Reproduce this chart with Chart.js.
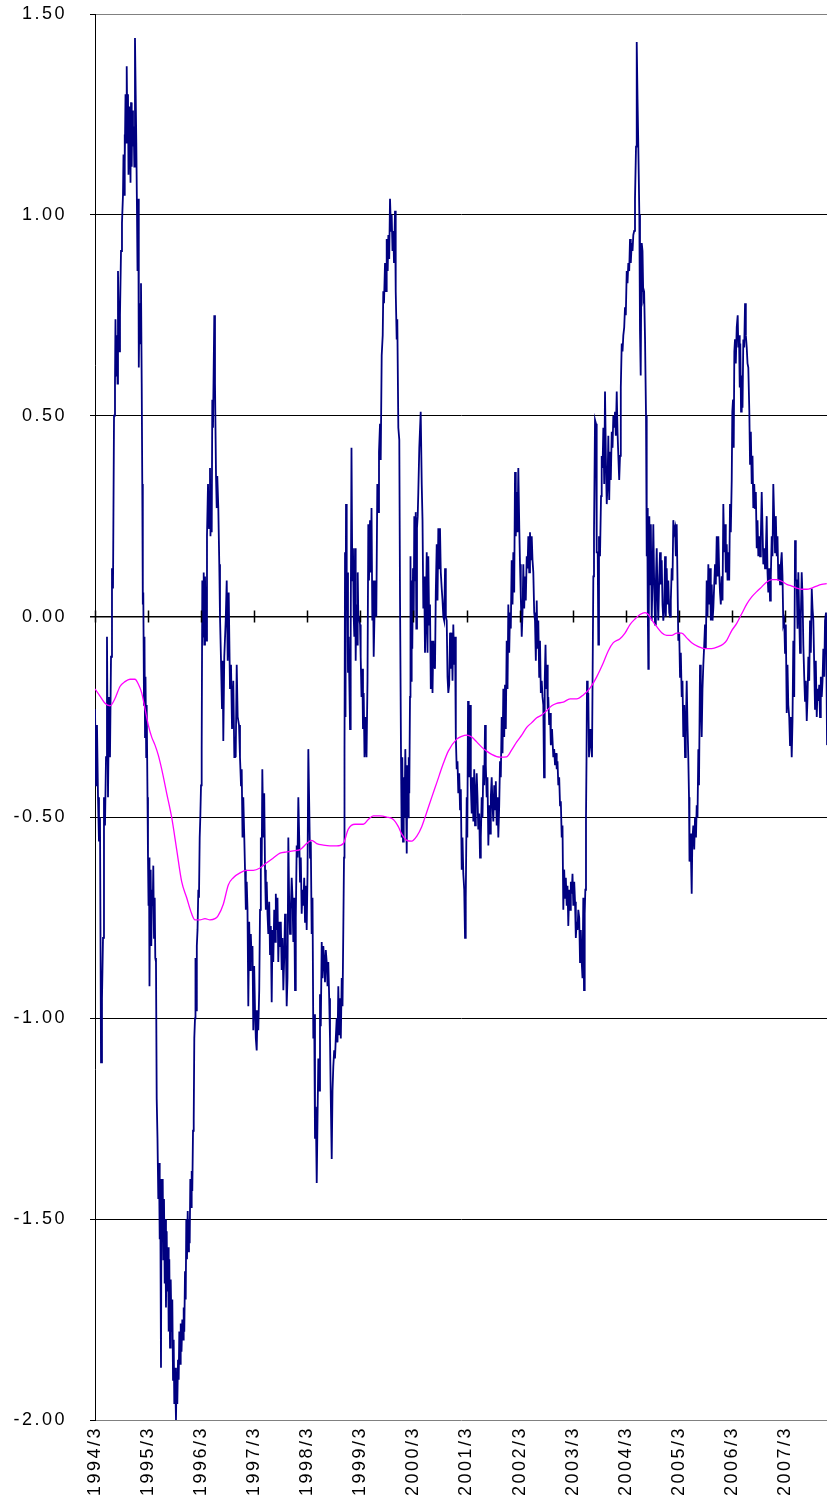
<!DOCTYPE html>
<html>
<head>
<meta charset="utf-8">
<script src="https://cdn.jsdelivr.net/npm/chart.js@4.4.1/dist/chart.umd.min.js"></script>
<style>
  body { margin: 0; background: #fff; }
  canvas { display: block; }
</style>
</head>
<body>
<canvas id="cvs_grafico" width="827" height="1510"></canvas>
<script>
// eixo x em meses contados a partir de 1994/3
const tickMeses = [0, 12, 24, 36, 48, 60, 72, 84, 96, 108, 120, 132, 144, 156];
const tickRotulos = ["1994/3", "1995/3", "1996/3", "1997/3", "1998/3", "1999/3", "2000/3",
  "2001/3", "2002/3", "2003/3", "2004/3", "2005/3", "2006/3", "2007/3"];

// serie diaria (azul)
const serieX = [
  0, 0.23, 0.45, 0.68, 0.9, 1.13, 1.36, 1.58, 1.81, 2.03, 2.26, 2.49, 2.71, 2.94, 3.17, 3.39, 3.62, 3.84, 4.07, 4.30, 4.52, 4.63, 4.75, 4.97, 5.09, 5.2, 5.43, 5.65, 5.88, 6.10,
  6.33, 6.44, 6.56, 6.67, 6.78, 6.90, 7.01, 7.17, 7.30, 7.46, 7.57, 7.69, 7.80, 7.91, 8.03, 8.14, 8.30, 8.43, 8.59, 8.75, 8.89, 9.04, 9.20, 9.34, 9.50, 9.61, 9.79, 9.90, 10.06, 10.24,
  10.40, 10.56, 10.69, 10.81, 10.92, 11.08, 11.19, 11.31, 11.42, 11.58, 11.69, 11.87, 11.98, 12.10, 12.21, 12.32, 12.44, 12.59, 12.73, 12.89, 13.05, 13.18, 13.34, 13.50, 13.63, 13.79, 13.95, 14.13, 14.31, 14.47,
  14.63, 14.76, 14.92, 15.04, 15.15, 15.31, 15.44, 15.60, 15.76, 15.89, 16.05, 16.21, 16.35, 16.51, 16.66, 16.80, 16.96, 17.12, 17.30, 17.48, 17.64, 17.79, 17.93, 18.09, 18.31, 18.47, 18.61, 18.77, 18.92, 19.06,
  19.22, 19.38, 19.56, 19.74, 19.90, 20.05, 20.19, 20.35, 20.51, 20.64, 20.80, 20.96, 21.10, 21.25, 21.41, 21.55, 21.71, 21.86, 22.00, 22.16, 22.32, 22.45, 22.61, 22.72, 22.88, 23.02, 23.18, 23.36, 23.51, 23.67,
  23.81, 23.97, 24.12, 24.26, 24.42, 24.58, 24.71, 24.87, 25.10, 25.32, 25.55, 25.78, 26.00, 26.11, 26.23, 26.39, 26.52, 26.68, 26.97, 27.13, 27.36, 27.52, 27.65, 27.88, 28.10, 28.26, 28.49, 28.71, 28.87, 29.01,
  29.23, 29.55, 29.78, 30.00, 30.23, 30.52, 30.75, 30.98, 31.27, 31.50, 31.65, 31.81, 32.04, 32.26, 32.56, 32.78, 33.01, 33.17, 33.35, 33.53, 33.73, 33.92, 34.10, 34.30, 34.48, 34.66, 34.86, 35.05, 35.23, 35.43,
  35.61, 35.79, 35.99, 36.18, 36.36, 36.56, 36.74, 36.92, 37.13, 37.31, 37.49, 37.69, 37.83, 38.05, 38.26, 38.44, 38.62, 38.82, 39.00, 39.18, 39.39, 39.57, 39.75, 39.95, 40.13, 40.31, 40.52, 40.70, 40.88, 41.08,
  41.26, 41.44, 41.65, 41.83, 42.01, 42.21, 42.39, 42.58, 42.78, 42.96, 43.14, 43.34, 43.52, 43.71, 43.91, 44.09, 44.27, 44.47, 44.65, 44.84, 45.04, 45.22, 45.40, 45.60, 45.79, 45.97, 46.17, 46.35, 46.53, 46.73,
  46.91, 47.10, 47.30, 47.48, 47.66, 47.86, 48.05, 48.23, 48.45, 48.61, 48.79, 48.99, 49.18, 49.36, 49.56, 49.74, 49.92, 50.13, 50.31, 50.49, 50.69, 50.87, 51.05, 51.26, 51.44, 51.62, 51.82, 52.00, 52.18, 52.39,
  52.57, 52.75, 52.95, 53.13, 53.31, 53.52, 53.70, 53.88, 54.08, 54.26, 54.44, 54.65, 54.83, 55.01, 55.21, 55.39, 55.58, 55.78, 55.96, 56.14, 56.30, 56.41, 56.53, 56.64, 56.75, 56.91, 57.05, 57.20, 57.36, 57.50,
  57.66, 57.81, 57.99, 58.18, 58.33, 58.49, 58.63, 58.79, 58.94, 59.08, 59.24, 59.40, 59.53, 59.69, 59.92, 60.07, 60.26, 60.44, 60.59, 60.75, 60.93, 61.16, 61.39, 61.61, 61.79, 61.95, 62.18, 62.34, 62.52, 62.70,
  62.86, 63.01, 63.19, 63.42, 63.60, 63.83, 63.99, 64.21, 64.44, 64.60, 64.82, 65.05, 65.18, 65.34, 65.57, 65.80, 65.95, 66.18, 66.32, 66.52, 66.70, 66.93, 67.08, 67.26, 67.45, 67.60, 67.83, 67.99, 68.21, 68.35,
  68.58, 68.80, 68.96, 69.19, 69.34, 69.48, 69.64, 69.80, 69.98, 70.16, 70.32, 70.48, 70.61, 70.77, 70.93, 71.06, 71.22, 71.33, 71.45, 71.60, 71.74, 71.90, 72.06, 72.19, 72.35, 72.51, 72.65, 72.80, 72.96, 73.10,
  73.32, 73.64, 73.87, 74.05, 74.23, 74.43, 74.61, 74.79, 75.00, 75.18, 75.36, 75.56, 75.74, 75.92, 76.13, 76.31, 76.49, 76.69, 76.87, 77.05, 77.26, 77.44, 77.62, 77.82, 78.00, 78.18, 78.39, 78.57, 78.75, 78.95,
  79.14, 79.32, 79.52, 79.70, 79.88, 80.08, 80.27, 80.45, 80.65, 80.83, 81.01, 81.21, 81.40, 81.58, 81.78, 81.96, 82.14, 82.35, 82.53, 82.71, 82.91, 83.09, 83.27, 83.48, 83.66, 83.77, 83.88, 84.04, 84.18, 84.34,
  84.49, 84.63, 84.79, 84.97, 85.17, 85.35, 85.54, 85.74, 85.92, 86.10, 86.30, 86.48, 86.66, 86.87, 87.05, 87.23, 87.43, 87.61, 87.80, 88.00, 88.18, 88.36, 88.56, 88.74, 88.93, 89.13, 89.31, 89.49, 89.69, 89.87,
  90.06, 90.26, 90.44, 90.62, 90.82, 91.01, 91.19, 91.39, 91.57, 91.75, 91.95, 92.14, 92.32, 92.52, 92.70, 92.88, 93.08, 93.27, 93.45, 93.65, 93.83, 94.01, 94.21, 94.40, 94.58, 94.78, 94.96, 95.14, 95.35, 95.53,
  95.71, 95.93, 96.09, 96.27, 96.48, 96.66, 96.84, 97.04, 97.22, 97.40, 97.61, 97.79, 97.97, 98.17, 98.35, 98.53, 98.74, 98.92, 99.10, 99.30, 99.48, 99.67, 99.87, 100.05, 100.23, 100.43, 100.61, 100.80, 101.00, 101.18,
  101.36, 101.52, 101.68, 101.86, 102.02, 102.20, 102.36, 102.49, 102.69, 102.88, 103.06, 103.33, 103.62, 103.82, 104.01, 104.23, 104.39, 104.57, 104.75, 104.95, 105.14, 105.32, 105.52, 105.70, 105.88, 106.08, 106.27, 106.45, 106.65, 106.83,
  107.01, 107.22, 107.40, 107.58, 107.78, 107.96, 108.14, 108.35, 108.53, 108.71, 108.91, 109.09, 109.27, 109.48, 109.66, 109.84, 110.04, 110.22, 110.40, 110.56, 110.72, 110.86, 111.01, 111.13, 111.24, 111.40, 111.53, 111.69, 111.92, 112.14,
  112.37, 112.67, 112.82, 113.05, 113.28, 113.43, 113.66, 113.80, 113.95, 114.18, 114.41, 114.56, 114.75, 114.93, 115.13, 115.31, 115.54, 115.70, 115.88, 116.06, 116.26, 116.44, 116.62, 116.83, 117.01, 117.19, 117.39, 117.57, 117.75, 117.96,
  118.14, 118.32, 118.52, 118.70, 118.88, 119.09, 119.27, 119.45, 119.65, 119.83, 120.01, 120.22, 120.40, 120.58, 120.78, 120.96, 121.14, 121.35, 121.53, 121.71, 121.91, 122.09, 122.32, 122.48, 122.66, 122.84, 123.07, 123.22, 123.38, 123.50,
  123.61, 123.79, 123.97, 124.17, 124.36, 124.58, 124.74, 124.85, 124.97, 125.10, 125.21, 125.33, 125.49, 125.67, 125.87, 126.05, 126.23, 126.44, 126.62, 126.80, 127.00, 127.18, 127.36, 127.57, 127.75, 127.93, 128.13, 128.31, 128.49, 128.70,
  128.88, 129.06, 129.26, 129.44, 129.62, 129.83, 130.01, 130.19, 130.39, 130.57, 130.75, 130.96, 131.14, 131.32, 131.52, 131.70, 131.88, 132.09, 132.27, 132.45, 132.65, 132.83, 133.01, 133.22, 133.40, 133.58, 133.78, 133.96, 134.14, 134.30,
  134.41, 134.59, 134.75, 134.91, 135.05, 135.27, 135.48, 135.66, 135.88, 136.04, 136.22, 136.41, 136.56, 136.79, 136.97, 137.17, 137.35, 137.54, 137.74, 137.92, 138.10, 138.30, 138.49, 138.67, 138.87, 139.05, 139.23, 139.44, 139.62, 139.80,
  140.00, 140.18, 140.36, 140.57, 140.75, 140.93, 141.13, 141.31, 141.49, 141.70, 141.88, 142.06, 142.26, 142.44, 142.62, 142.83, 143.01, 143.19, 143.39, 143.57, 143.75, 143.96, 144.09, 144.25, 144.41, 144.55, 144.70, 144.88, 145.09, 145.31,
  145.45, 145.61, 145.77, 145.90, 146.06, 146.22, 146.40, 146.58, 146.78, 146.97, 147.15, 147.35, 147.53, 147.71, 147.94, 148.10, 148.28, 148.48, 148.66, 148.84, 149.05, 149.23, 149.41, 149.61, 149.79, 149.97, 150.18, 150.36, 150.54, 150.74,
  150.92, 151.10, 151.31, 151.49, 151.67, 151.87, 152.05, 152.23, 152.44, 152.62, 152.80, 153.00, 153.18, 153.36, 153.57, 153.75, 153.93, 154.13, 154.31, 154.49, 154.70, 154.88, 155.06, 155.26, 155.44, 155.62, 155.83, 156.01, 156.19, 156.39,
  156.57, 156.75, 156.96, 157.14, 157.32, 157.52, 157.70, 157.88, 158.09, 158.27, 158.45, 158.65, 158.83, 159.02, 159.22, 159.40, 159.58, 159.78, 159.97, 160.15, 160.35, 160.53, 160.71, 160.92, 161.10, 161.28, 161.48, 161.66, 161.84, 162.05,
  162.23, 162.41, 162.61, 162.79, 162.97, 163.18, 163.36, 163.54, 163.74, 163.92, 164.10, 164.31, 164.49, 164.67, 164.87, 165.05, 165.28, 165.51
];
const serieValores = [
  -0.23, -0.42, -0.27, -0.45, -0.56, -0.50, -1.11, -0.95, -0.80, -0.45, -0.52, -0.35, -0.05, -0.45, -0.20, -0.35, -0.10, 0.12, 0.07, 0.50, 0.58, 0.74, 0.60, 0.70, 0.58, 0.86, 0.66, 0.75, 0.91, 0.98,
  1.05, 1.15, 1.05, 1.20, 1.13, 1.30, 1.18, 1.37, 1.22, 1.30, 1.10, 1.27, 1.15, 1.25, 1.08, 1.28, 1.12, 1.26, 1.17, 1.22, 1.12, 1.44, 1.30, 1.18, 1.00, 0.86, 1.04, 0.62, 0.78, 0.68,
  0.83, 0.58, 0.33, 0.03, 0.06, -0.22, -0.05, -0.30, -0.15, -0.35, -0.22, -0.45, -0.60, -0.72, -0.60, -0.92, -0.70, -0.63, -0.82, -0.68, -0.72, -0.62, -0.80, -0.70, -0.85, -0.86, -1.20, -1.30, -1.45, -1.36,
  -1.55, -1.45, -1.87, -1.40, -1.55, -1.40, -1.60, -1.45, -1.66, -1.50, -1.72, -1.53, -1.68, -1.57, -1.78, -1.60, -1.82, -1.65, -1.78, -1.70, -1.90, -1.80, -1.96, -1.87, -2.00, -1.88, -1.96, -1.85, -1.90, -1.78,
  -1.86, -1.76, -1.83, -1.75, -1.80, -1.72, -1.78, -1.63, -1.70, -1.50, -1.60, -1.48, -1.58, -1.50, -1.56, -1.40, -1.47, -1.38, -1.43, -1.28, -1.25, -1.05, -1.00, -0.85, -0.98, -0.82, -0.78, -0.68, -0.70, -0.55,
  -0.50, -0.42, -0.33, 0.09, -0.05, 0.11, -0.07, 0.10, -0.06, 0.20, 0.33, 0.22, 0.37, 0.20, 0.33, 0.21, 0.54, 0.47, 0.75, 0.58, 0.35, 0.27, 0.35, 0.27, 0.13, 0.00, -0.11, -0.23, -0.11, -0.31,
  -0.10, -0.01, 0.09, -0.11, 0.06, -0.18, -0.12, -0.28, -0.16, -0.35, -0.30, -0.35, -0.12, -0.25, -0.27, -0.35, -0.42, -0.38, -0.55, -0.45, -0.54, -0.63, -0.73, -0.66, -0.73, -0.97, -0.76, -0.88, -0.79, -0.86,
  -0.82, -1.03, -0.87, -0.98, -1.05, -1.08, -0.98, -1.03, -0.93, -0.73, -0.55, -0.62, -0.38, -0.55, -0.44, -0.63, -0.73, -0.66, -0.74, -0.79, -0.71, -0.84, -0.77, -0.96, -0.78, -0.86, -0.73, -0.81, -0.69, -0.78,
  -0.70, -0.86, -0.76, -0.82, -0.76, -0.88, -0.80, -0.93, -0.85, -0.74, -0.81, -0.97, -0.90, -0.55, -0.72, -0.79, -0.73, -0.65, -0.70, -0.81, -0.70, -0.93, -0.75, -0.57, -0.60, -0.45, -0.55, -0.66, -0.60, -0.74,
  -0.68, -0.72, -0.65, -0.76, -0.67, -0.78, -0.64, -0.33, -0.48, -0.60, -0.56, -0.79, -0.70, -1.05, -0.99, -1.30, -1.22, -1.41, -1.25, -1.10, -1.18, -0.94, -1.02, -0.81, -0.90, -0.82, -0.86, -0.91, -0.83, -0.86,
  -0.92, -0.86, -0.95, -1.05, -1.20, -1.35, -1.18, -1.12, -1.08, -1.10, -1.05, -1.00, -1.06, -0.92, -1.04, -0.95, -1.05, -0.90, -0.97, -0.78, -0.60, -0.33, 0.16, -0.25, 0.28, 0.02, 0.11, -0.14, -0.05, -0.16,
  -0.28, -0.04, 0.42, 0.09, 0.17, 0.00, -0.05, 0.17, -0.11, 0.03, -0.07, 0.11, 0.00, 0.00, -0.02, -0.10, -0.20, -0.13, -0.28, -0.19, -0.35, -0.25, -0.35, -0.16, 0.23, 0.09, 0.24, 0.11, 0.27, -0.01,
  0.09, -0.10, 0.00, 0.09, 0.00, 0.33, 0.26, 0.41, 0.48, 0.39, 0.65, 0.70, 0.81, 0.78, 0.88, 0.81, 0.94, 0.86, 0.95, 0.89, 1.04, 0.96, 1.00, 0.91, 0.96, 0.88, 1.01, 0.81, 0.69, 0.74,
  0.47, 0.44, 0.05, -0.35, -0.55, -0.35, -0.56, -0.40, -0.50, -0.33, -0.45, -0.59, -0.37, -0.50, -0.35, -0.44, -0.20, 0.15, -0.16, 0.09, -0.08, 0.12, 0.00, 0.25, 0.09, 0.26, -0.03, 0.22, 0.25, 0.31,
  0.42, 0.51, 0.33, 0.24, 0.02, 0.10, -0.09, -0.02, 0.16, -0.09, 0.15, -0.02, 0.03, -0.18, -0.06, -0.19, -0.06, -0.12, -0.13, 0.06, 0.18, 0.04, 0.22, 0.12, 0.22, 0.11, 0.07, 0.04, 0.00, -0.01,
  0.12, 0.00, -0.01, -0.15, -0.19, -0.17, -0.04, -0.13, -0.04, -0.16, -0.02, -0.12, -0.05, -0.30, -0.38, -0.36, -0.44, -0.39, -0.48, -0.43, -0.63, -0.55, -0.64, -0.68, -0.80, -0.72, -0.70, -0.45, -0.55, -0.21,
  -0.35, -0.40, -0.22, -0.42, -0.49, -0.40, -0.51, -0.38, -0.52, -0.45, -0.39, -0.45, -0.53, -0.49, -0.60, -0.55, -0.45, -0.50, -0.37, -0.42, -0.27, -0.37, -0.45, -0.40, -0.57, -0.47, -0.54, -0.45, -0.40, -0.47,
  -0.51, -0.42, -0.48, -0.41, -0.52, -0.45, -0.55, -0.47, -0.36, -0.40, -0.25, -0.34, -0.18, -0.30, -0.17, -0.28, -0.06, -0.18, 0.03, -0.09, 0.01, -0.03, 0.14, 0.03, 0.16, 0.06, 0.36, 0.20, 0.31, 0.21,
  0.37, 0.22, 0.13, 0.05, -0.05, 0.01, 0.13, 0.02, 0.10, 0.04, 0.15, 0.12, 0.20, 0.11, 0.21, 0.14, 0.20, 0.14, 0.11, 0.01, -0.01, -0.11, 0.04, -0.08, -0.01, -0.15, -0.06, -0.19, -0.16, -0.20,
  -0.22, -0.40, -0.16, -0.07, -0.18, -0.12, -0.23, -0.20, -0.27, -0.24, -0.32, -0.28, -0.35, -0.33, -0.37, -0.34, -0.38, -0.36, -0.42, -0.40, -0.47, -0.46, -0.55, -0.52, -0.73, -0.63, -0.70, -0.65, -0.72, -0.67,
  -0.77, -0.68, -0.73, -0.66, -0.69, -0.64, -0.72, -0.66, -0.71, -0.80, -0.76, -0.78, -0.73, -0.75, -0.86, -0.78, -0.86, -0.90, -0.70, -0.93, -0.74, -0.68, -0.50, -0.35, -0.16, -0.25, -0.19, -0.35, -0.28, -0.32,
  -0.35, 0.10, 0.21, 0.49, 0.48, 0.16, 0.16, -0.07, 0.20, 0.15, 0.30, 0.40, 0.37, 0.47, 0.33, 0.56, 0.37, 0.28, 0.33, 0.45, 0.29, 0.41, 0.34, 0.46, 0.42, 0.50, 0.47, 0.51, 0.45, 0.56,
  0.46, 0.40, 0.34, 0.40, 0.57, 0.68, 0.66, 0.70, 0.72, 0.77, 0.75, 0.86, 0.83, 0.88, 0.86, 0.94, 0.88, 0.93, 0.91, 0.95, 0.96, 1.04, 1.17, 1.43, 1.29, 1.17, 1.00, 0.71, 0.60, 0.81,
  0.93, 0.91, 0.79, 0.80, 0.69, 0.50, 0.15, 0.27, 0.03, -0.13, 0.00, 0.25, 0.08, 0.23, -0.01, 0.10, 0.23, 0.07, -0.02, 0.08, 0.17, 0.05, -0.01, 0.10, 0.16, 0.08, 0.14, 0.03, -0.01, 0.02,
  0.15, 0.00, 0.12, 0.03, 0.09, 0.01, 0.00, 0.04, 0.12, 0.09, 0.24, 0.21, 0.22, 0.15, 0.23, 0.09, -0.06, -0.04, -0.15, -0.09, -0.20, -0.16, -0.30, -0.22, -0.35, -0.28, -0.16, -0.27, -0.35, -0.45,
  -0.61, -0.54, -0.60, -0.69, -0.56, -0.52, -0.58, -0.50, -0.55, -0.47, -0.50, -0.33, -0.42, -0.12, -0.20, -0.30, -0.18, -0.12, -0.07, -0.02, -0.08, 0.09, 0.00, 0.13, 0.03, 0.12, -0.01, 0.08, -0.01, 0.02,
  0.08, 0.13, 0.08, 0.20, 0.10, 0.20, 0.11, 0.06, 0.03, 0.10, 0.04, 0.28, 0.16, 0.23, 0.11, 0.18, 0.09, 0.16, 0.09, 0.28, 0.21, 0.34, 0.51, 0.54, 0.42, 0.66, 0.69, 0.63, 0.72, 0.75,
  0.67, 0.70, 0.57, 0.68, 0.51, 0.60, 0.52, 0.69, 0.67, 0.78, 0.70, 0.67, 0.63, 0.62, 0.51, 0.38, 0.46, 0.33, 0.40, 0.27, 0.33, 0.27, 0.31, 0.17, 0.24, 0.15, 0.20, 0.15, 0.20, 0.31,
  0.22, 0.13, 0.17, 0.12, 0.16, 0.25, 0.11, 0.06, 0.12, 0.04, 0.10, 0.20, 0.15, 0.33, 0.24, 0.16, 0.25, 0.15, 0.20, 0.09, 0.13, 0.08, 0.13, 0.16, 0.10, -0.02, -0.01, -0.09, -0.02, -0.24,
  -0.12, -0.22, -0.25, -0.32, -0.25, -0.35, -0.26, -0.06, -0.20, 0.19, 0.09, 0.09, -0.03, 0.11, 0.00, -0.09, 0.00, 0.11, 0.05, -0.07, -0.15, -0.21, -0.16, -0.26, -0.20, -0.10, -0.16, -0.01, -0.09, 0.07,
  0.02, -0.01, -0.12, -0.23, -0.11, -0.25, -0.18, -0.21, -0.17, -0.25, -0.15, -0.20, -0.16, -0.08, -0.15, -0.01, 0.01, -0.32
];

// media movel (magenta)
const mediaX = [
  0, 1.13, 2.26, 3.39, 4.52, 5.65, 6.78, 7.91, 9.04, 9.79, 10.56, 11.31, 12.05, 12.82, 13.57, 14.31, 15.08, 16.21, 17.34, 18.47,
  19.60, 20.73, 21.86, 22.61, 23.74, 24.87, 26.00, 27.13, 27.81, 29.01, 30.14, 31.27, 32.78, 34.30, 35.79, 37.31, 38.82, 40.31, 41.83, 43.34,
  44.84, 46.35, 47.86, 48.99, 50.13, 51.62, 53.13, 54.65, 56.14, 57.27, 58.79, 60.66, 61.79, 62.92, 64.44, 65.95, 67.45, 68.58, 69.34, 70.48,
  71.60, 72.73, 73.87, 75.00, 76.13, 77.26, 78.75, 79.88, 81.78, 82.91, 84.04, 85.17, 86.30, 87.43, 88.56, 89.69, 91.57, 93.08, 94.21, 95.35,
  96.48, 97.61, 98.74, 99.87, 101.00, 102.13, 103.26, 104.39, 105.88, 107.40, 108.91, 110.40, 111.92, 113.43, 114.93, 116.06, 117.19, 118.70, 119.83, 120.96,
  122.09, 123.22, 124.36, 125.10, 125.87, 127.00, 128.13, 129.26, 130.39, 131.52, 132.65, 133.78, 134.91, 136.41, 137.92, 139.44, 140.93, 142.06, 142.83, 143.96,
  145.09, 146.22, 147.35, 148.48, 149.61, 150.74, 151.87, 153.00, 154.13, 155.26, 156.39, 157.52, 158.65, 159.78, 160.92, 162.05, 163.18, 164.31, 165.44
];
const mediaValores = [
  -0.180, -0.198, -0.216, -0.222, -0.204, -0.174, -0.162, -0.156, -0.156, -0.168, -0.190, -0.230, -0.270, -0.300, -0.320, -0.345, -0.380, -0.440, -0.500, -0.580,
  -0.660, -0.700, -0.740, -0.755, -0.755, -0.752, -0.755, -0.752, -0.745, -0.716, -0.668, -0.650, -0.638, -0.632, -0.632, -0.626, -0.613, -0.601, -0.589, -0.586,
  -0.583, -0.580, -0.565, -0.557, -0.565, -0.569, -0.571, -0.571, -0.565, -0.529, -0.517, -0.517, -0.505, -0.496, -0.496, -0.499, -0.505, -0.523, -0.541, -0.557,
  -0.559, -0.547, -0.523, -0.487, -0.450, -0.414, -0.366, -0.335, -0.305, -0.298, -0.295, -0.300, -0.312, -0.325, -0.335, -0.343, -0.350, -0.349, -0.332, -0.312,
  -0.295, -0.276, -0.264, -0.252, -0.245, -0.234, -0.222, -0.216, -0.213, -0.205, -0.205, -0.195, -0.178, -0.150, -0.115, -0.085, -0.065, -0.055, -0.041, -0.020,
  -0.006, 0.005, 0.010, 0.005, -0.008, -0.025, -0.040, -0.047, -0.047, -0.041, -0.041, -0.053, -0.065, -0.075, -0.080, -0.080, -0.075, -0.068, -0.059, -0.035,
  -0.017, 0.007, 0.031, 0.049, 0.062, 0.074, 0.086, 0.092, 0.092, 0.088, 0.080, 0.076, 0.071, 0.068, 0.068, 0.071, 0.076, 0.080, 0.082
];

const GraficoLinhas = document.getElementById("cvs_grafico");

function montarPontos(xs, ys) {
  let pontos = [];
  for (let i = 0; i < xs.length && i < ys.length; i++) {
    pontos.push({ x: xs[i], y: ys[i] });
  }
  return pontos;
}

// espaco entre letras como no original
const espacamento = {
  id: "espacamento",
  beforeLayout(chart) { chart.ctx.letterSpacing = "2.5px"; },
  beforeDraw(chart) { chart.ctx.letterSpacing = "2.5px"; },
};

// marcas dos anos sobre a linha do zero
const marcasZero = {
  id: "marcasZero",
  afterDatasetsDraw(chart) {
    const ctx = chart.ctx;
    const y0 = chart.scales.y.getPixelForValue(0);
    ctx.save();
    ctx.strokeStyle = "#000";
    ctx.lineWidth = 1.5;
    ctx.beginPath();
    for (let i = 0; i < tickMeses.length; i++) {
      const px = Math.round(chart.scales.x.getPixelForValue(tickMeses[i])) + 0.5;
      ctx.moveTo(px, y0 - 6);
      ctx.lineTo(px, y0 + 6);
    }
    ctx.stroke();
    ctx.restore();
  },
};

new Chart(GraficoLinhas, {
  type: "line",
  data: {
    datasets: [
      {
        label: "media",
        data: montarPontos(mediaX, mediaValores),
        borderColor: "#ff00ff",
        borderWidth: 1.3,
        pointRadius: 0,
        cubicInterpolationMode: "monotone",
      },
      {
        label: "serie",
        data: montarPontos(serieX, serieValores),
        borderColor: "#000080",
        borderWidth: 1.8,
        pointRadius: 0,
        tension: 0,
      },
    ],
  },
  options: {
    responsive: false,
    devicePixelRatio: 1,
    animation: false,
    layout: { padding: { top: 14, left: 0, right: 0, bottom: 0 } },
    plugins: { legend: { display: false }, tooltip: { enabled: false } },
    scales: {
      x: {
        type: "linear",
        min: 0,
        max: 165.5,
        grid: { display: false, drawTicks: false },
        border: { display: false },
        afterBuildTicks: (scale) => {
          scale.ticks = tickMeses.map((v) => ({ value: v }));
        },
        afterFit: (scale) => { scale.height = 90; },
        ticks: {
          autoSkip: false,
          minRotation: 90,
          maxRotation: 90,
          padding: 6,
          color: "#000",
          font: { family: "'Liberation Sans', Arial, sans-serif", size: 18 },
          callback: (v) => {
            const i = tickMeses.indexOf(v);
            return i >= 0 ? tickRotulos[i] : "";
          },
        },
      },
      y: {
        min: -2,
        max: 1.5,
        afterFit: (scale) => {
          scale.width = 95;
          scale.paddingTop = 0;
          scale.paddingBottom = 0;
        },
        border: { display: true, color: "#000", width: 1 },
        grid: {
          color: (c) => (c.tick.value == 1.5 || c.tick.value == -2 ? "#808080" : "#000"),
          lineWidth: (c) => (c.tick.value == 0 ? 1.5 : 1),
          tickColor: "#000",
          tickLength: 5,
        },
        ticks: {
          stepSize: 0.5,
          padding: 23,
          color: "#000",
          font: { family: "'Liberation Sans', Arial, sans-serif", size: 18 },
          callback: (v) => v.toFixed(2),
        },
      },
    },
  },
  plugins: [espacamento, marcasZero],
});
</script>
</body>
</html>
